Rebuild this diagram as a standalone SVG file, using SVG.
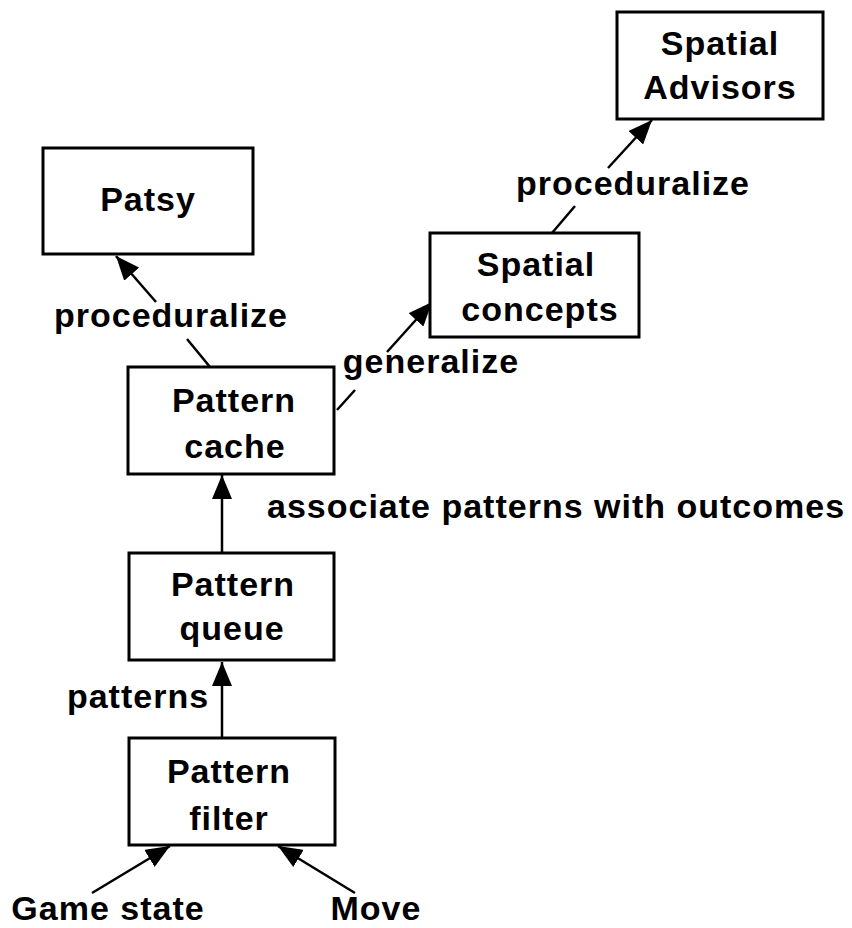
<svg xmlns="http://www.w3.org/2000/svg" width="852" height="928" viewBox="0 0 852 928">
<style>
.box{fill:#fff;stroke:#000;stroke-width:3}
.t{font-family:"Liberation Sans",Arial,sans-serif;font-weight:bold;font-size:34px;letter-spacing:1px;fill:#000;text-anchor:middle}
.ln{stroke:#000;stroke-width:2.5;fill:none}
</style>
<defs>
<marker id="ah" markerUnits="userSpaceOnUse" markerWidth="24" markerHeight="20" refX="24" refY="10" orient="auto" viewBox="0 0 24 20">
<path d="M0,0 L24,10 L0,20 z" fill="#000"/>
</marker>
</defs>
<rect width="852" height="928" fill="#fff"/>
<g id="connectors">
<line class="ln" x1="92" y1="893" x2="170" y2="846" marker-end="url(#ah)"/>
<line class="ln" x1="355" y1="893" x2="278" y2="846" marker-end="url(#ah)"/>
<line class="ln" x1="222" y1="738" x2="222" y2="662" marker-end="url(#ah)"/>
<line class="ln" x1="222" y1="553" x2="222" y2="475" marker-end="url(#ah)"/>
<line class="ln" x1="210" y1="367" x2="187" y2="339"/>
<line class="ln" x1="156" y1="302" x2="116" y2="256" marker-end="url(#ah)"/>
<line class="ln" x1="337" y1="410" x2="355" y2="390"/>
<line class="ln" x1="387" y1="352" x2="432" y2="302" marker-end="url(#ah)"/>
<line class="ln" x1="552" y1="233" x2="575" y2="206"/>
<line class="ln" x1="608" y1="168" x2="652" y2="120" marker-end="url(#ah)"/>
<text class="t" x="171" y="327">proceduralize</text>
<text class="t" x="633" y="195">proceduralize</text>
<text class="t" x="431" y="373">generalize</text>
<text class="t" x="138" y="708">patterns</text>
<text class="t" x="267" y="518" style="text-anchor:start">associate patterns with outcomes</text>
</g>
<g id="patsy">
<rect class="box" x="43" y="148" width="210" height="106"/>
<text class="t" x="148" y="211">Patsy</text>
</g>
<g id="spatial-advisors">
<rect class="box" x="617" y="12" width="206" height="107"/>
<text class="t" x="720" y="55">Spatial</text>
<text class="t" x="720" y="99">Advisors</text>
</g>
<g id="spatial-concepts">
<rect class="box" x="430" y="233" width="209" height="104"/>
<text class="t" x="536" y="276">Spatial</text>
<text class="t" x="540" y="321">concepts</text>
</g>
<g id="pattern-cache">
<rect class="box" x="128" y="367" width="206" height="107"/>
<text class="t" x="234" y="412">Pattern</text>
<text class="t" x="235" y="458">cache</text>
</g>
<g id="pattern-queue">
<rect class="box" x="129" y="553" width="205" height="107"/>
<text class="t" x="233" y="596">Pattern</text>
<text class="t" x="232" y="640">queue</text>
</g>
<g id="pattern-filter">
<rect class="box" x="129" y="738" width="206" height="107"/>
<text class="t" x="229" y="783">Pattern</text>
<text class="t" x="229" y="830">filter</text>
</g>
<g id="game-state">
<text class="t" x="108" y="920">Game state</text>
</g>
<g id="move">
<text class="t" x="376" y="920">Move</text>
</g>
</svg>
